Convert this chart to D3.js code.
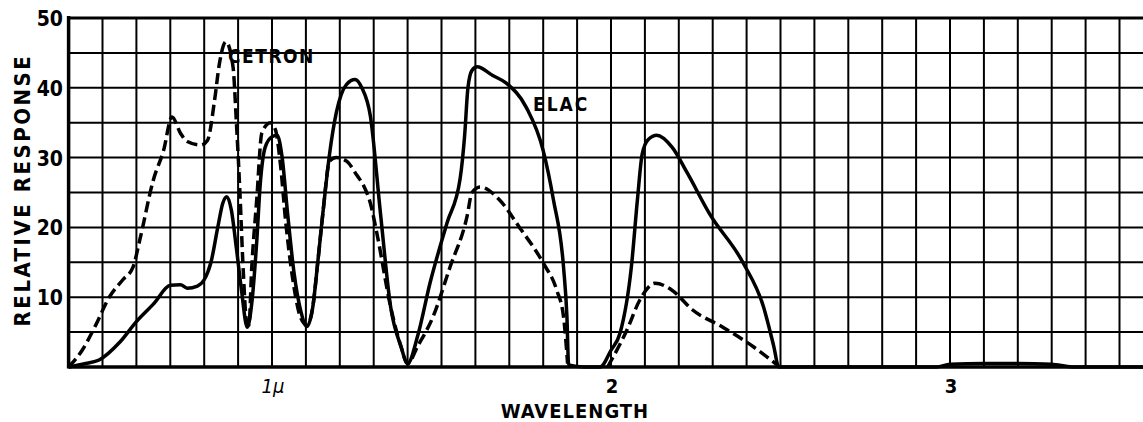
<!DOCTYPE html>
<html>
<head>
<meta charset="utf-8">
<script src="https://cdn.jsdelivr.net/npm/d3@7"></script>
<style>
  body { margin: 0; background: #fff; }
  text { font-family: "DejaVu Sans Condensed", "DejaVu Sans", sans-serif; font-weight: bold; fill: #000; }
</style>
</head>
<body>
<div id="chart"></div>
<script>
const width = 1143;
const height = 422;

// wavelength (micron), relative response
const elacWave = [0.40, 0.45, 0.49, 0.55, 0.60, 0.65, 0.70, 0.73, 0.75, 0.78, 0.80, 0.82, 0.84, 0.855, 0.867, 0.88, 0.895, 0.91, 0.927, 0.94, 0.955, 0.965, 0.98, 1.0, 1.015, 1.03, 1.045, 1.065, 1.085, 1.103, 1.12, 1.135, 1.15, 1.17, 1.19, 1.22, 1.245, 1.265, 1.29, 1.32, 1.35, 1.38, 1.40, 1.43, 1.466, 1.516, 1.555, 1.568, 1.578, 1.59, 1.605, 1.65, 1.69, 1.75, 1.80, 1.83, 1.86, 1.87, 1.875, 1.92, 1.968, 2.0, 2.027, 2.06, 2.078, 2.092, 2.11, 2.135, 2.18, 2.225, 2.29, 2.39, 2.45, 2.48, 2.495, 2.7, 2.96, 3.0, 3.1, 3.2, 3.3, 3.36, 3.45, 3.57];
const elacResp = [0, 0.5, 1, 3.5, 6.5, 9, 11.7, 11.8, 11.3, 11.6, 12.5, 15, 20, 23.5, 24.4, 22.5, 17, 11, 5.7, 9, 18, 26, 31.5, 33, 33.2, 30, 22.5, 13.5, 8, 5.8, 8.5, 15, 22, 30.6, 36.5, 40.5, 41.2, 40, 36, 22, 8.6, 3, 0.5, 4.5, 12, 20.6, 27, 33, 40, 42.5, 43, 41.8, 40.7, 37.2, 31, 24, 14.3, 7.2, 0.3, 0, 0, 2.4, 4.9, 14.3, 24, 30.5, 32.6, 33.2, 31.5, 27.8, 22, 14.9, 8.6, 3, 0, 0, 0, 0.4, 0.5, 0.5, 0.4, 0, 0, 0];

const cetronWave = [0.40, 0.44, 0.48, 0.52, 0.56, 0.59, 0.61, 0.65, 0.68, 0.705, 0.73, 0.75, 0.79, 0.81, 0.83, 0.845, 0.864, 0.885, 0.895, 0.905, 0.915, 0.925, 0.932, 0.94, 0.955, 0.97, 0.995, 1.01, 1.025, 1.04, 1.06, 1.085, 1.103, 1.12, 1.135, 1.15, 1.17, 1.19, 1.22, 1.25, 1.27, 1.29, 1.31, 1.35, 1.38, 1.40, 1.43, 1.475, 1.525, 1.575, 1.59, 1.614, 1.67, 1.73, 1.80, 1.84, 1.86, 1.872, 1.93, 1.99, 2.047, 2.085, 2.13, 2.18, 2.24, 2.33, 2.42, 2.49];
const cetronResp = [0, 2.4, 6, 10, 12.5, 14.3, 18.2, 26.8, 31, 35.8, 33.5, 32.3, 31.8, 32.5, 38, 43.5, 46.6, 43, 35, 25.4, 14, 6.5, 6, 14, 24, 33.5, 35, 34, 29, 21, 13, 7, 6, 8.5, 15, 22, 29.5, 30, 29.5, 27.5, 26, 23.5, 19, 8.6, 3, 0.5, 3, 7.2, 14.3, 21.5, 25, 25.8, 24, 20, 14.9, 11, 7.2, 0.5, null, 0, 5.3, 9.6, 12, 11, 8.2, 5.7, 2.9, 0.3];

const yTicks = [10, 20, 30, 40, 50];
const xTicks = [1, 2, 3];
const xTickLabels = ['1\u03bc', '2', '3'];

const x = d3.scaleLinear().domain([0.4, 2.0]).range([68.6, 611]);
const y = d3.scaleLinear().domain([0, 50]).range([367, 18]);

const svg = d3.select('#chart').append('svg')
    .attr('width', width)
    .attr('height', height);

// graph paper grid
const vLines = d3.range(4, 36).map(d => d / 10);
const hLines = d3.range(5, 51, 5);

svg.append('g').selectAll('line')
    .data(vLines)
    .enter()
    .append('line')
    .attr('x1', d => x(d))
    .attr('x2', d => x(d))
    .attr('y1', y(50))
    .attr('y2', y(0))
    .attr('stroke', '#000')
    .attr('stroke-width', 2);

svg.append('g').selectAll('line')
    .data(hLines)
    .enter()
    .append('line')
    .attr('x1', x(0.4))
    .attr('x2', width)
    .attr('y1', d => y(d))
    .attr('y2', d => y(d))
    .attr('stroke', '#000')
    .attr('stroke-width', d => d === 50 ? 3 : 2);

// axes (heavy)
svg.append('line')
    .attr('x1', x(0.4)).attr('x2', x(0.4))
    .attr('y1', y(50) - 2).attr('y2', y(0) + 1.5)
    .attr('stroke', '#000').attr('stroke-width', 3.5);
svg.append('line')
    .attr('x1', x(0.4)).attr('x2', width)
    .attr('y1', y(0)).attr('y2', y(0))
    .attr('stroke', '#000').attr('stroke-width', 3.5);

// curves
const line = d3.line()
    .defined(d => d[1] !== null)
    .x(d => x(d[0]))
    .y(d => y(d[1]))
    .curve(d3.curveMonotoneX);

const elac = elacWave.map((w, i) => [w, elacResp[i]]);
const cetron = cetronWave.map((w, i) => [w, cetronResp[i]]);

svg.append('path')
    .datum(cetron)
    .attr('d', line)
    .attr('fill', 'none')
    .attr('stroke', '#000')
    .attr('stroke-width', 3.5)
    .attr('stroke-dasharray', '11,5');

svg.append('path')
    .datum(elac)
    .attr('d', line)
    .attr('fill', 'none')
    .attr('stroke', '#000')
    .attr('stroke-width', 3.5)
    .attr('stroke-linejoin', 'round');

// tick labels
svg.append('g').selectAll('text')
    .data(yTicks)
    .enter()
    .append('text')
    .attr('x', 63)
    .attr('y', d => y(d) + 8)
    .attr('text-anchor', 'end')
    .attr('font-size', 21)
    .text(d => d);

svg.append('g').selectAll('text')
    .data(xTicks)
    .enter()
    .append('text')
    .attr('x', d => x(d) + 1)
    .attr('y', 393)
    .attr('text-anchor', 'middle')
    .attr('font-size', 20)
    .style('font-weight', d => d === 1 ? 'normal' : 'bold')
    .style('font-style', d => d === 1 ? 'italic' : 'normal')
    .text((d, i) => xTickLabels[i]);

// axis titles
svg.append('text')
    .attr('x', 575)
    .attr('y', 418)
    .attr('text-anchor', 'middle')
    .attr('font-size', 20)
    .attr('letter-spacing', 1)
    .text('WAVELENGTH');

svg.append('text')
    .attr('transform', 'translate(30,190) rotate(-90)')
    .attr('text-anchor', 'middle')
    .attr('font-size', 22)
    .attr('letter-spacing', 2.5)
    .text('RELATIVE  RESPONSE');

// curve labels
svg.append('text')
    .attr('x', 228)
    .attr('y', 63)
    .attr('font-size', 19)
    .attr('letter-spacing', 1.5)
    .text('CETRON');

svg.append('text')
    .attr('x', 533)
    .attr('y', 111)
    .attr('font-size', 19)
    .attr('letter-spacing', 2)
    .text('ELAC');
</script>
</body>
</html>
